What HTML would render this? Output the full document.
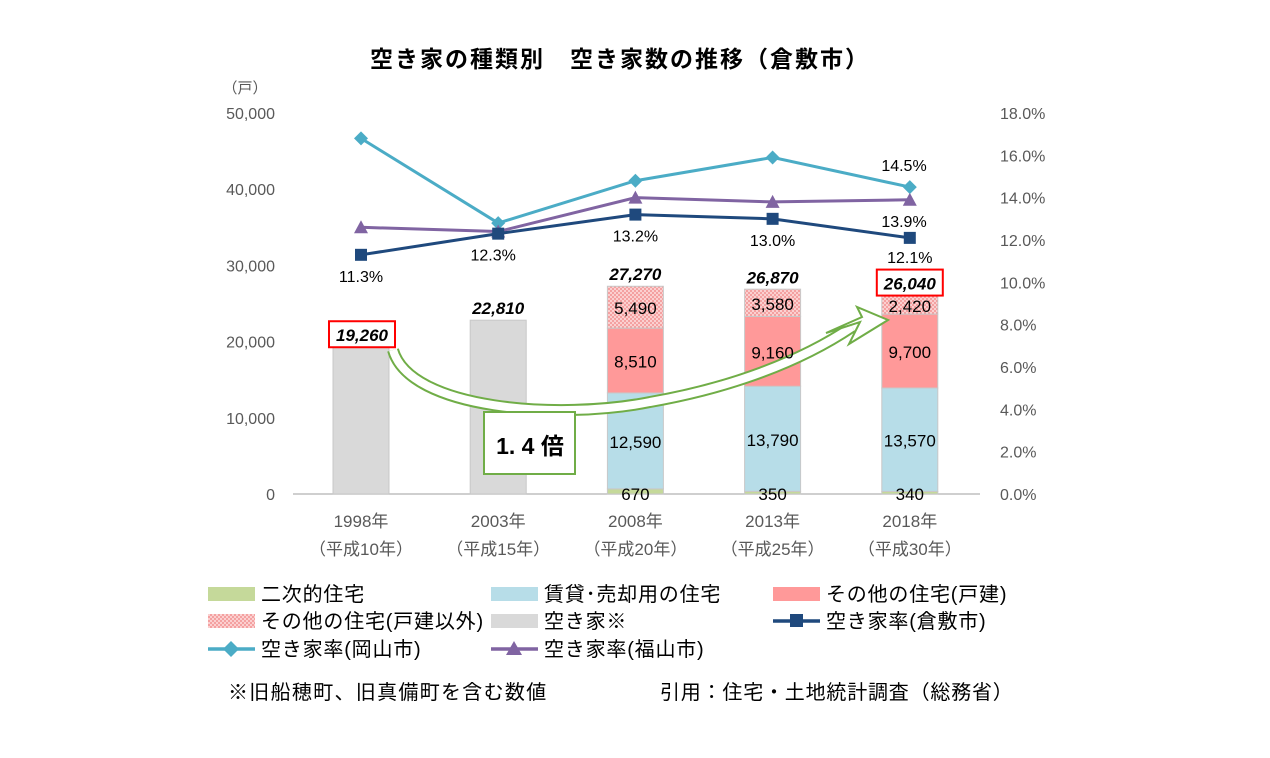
<!DOCTYPE html>
<html><head><meta charset="utf-8"><style>
body{margin:0;background:#fff;}
svg text{font-family:"Liberation Sans","Noto Sans CJK JP",sans-serif;}
</style></head><body>
<svg id="c" width="1270" height="753" xmlns="http://www.w3.org/2000/svg">
<rect width="1270" height="753" fill="#fff"/>
<text x="620" y="67" font-size="23" font-weight="bold" letter-spacing="2" text-anchor="middle" fill="#000">空き家の種類別　空き家数の推移（倉敷市）</text>
<text x="245" y="93" font-size="15" text-anchor="middle" fill="#595959">（戸）</text>
<g id="plot"></g>
<g id="legend"></g>
<text x="228" y="699" font-size="20" letter-spacing="1.3" fill="#000">※旧船穂町、旧真備町を含む数値</text>
<text x="660" y="699" font-size="20" letter-spacing="0.8" fill="#000">引用：住宅・土地統計調査（総務省）</text>
</svg>
<script>
const years=["1998年","2003年","2008年","2013年","2018年"];
const eras=["（平成10年）","（平成15年）","（平成20年）","（平成25年）","（平成30年）"];
const secondary=[0,0,670,350,340];
const rental=[0,0,12590,13790,13570];
const otherDetached=[0,0,8510,9160,9700];
const otherNonDetached=[0,0,5490,3580,2420];
const vacantTotalOnly=[19260,22810,0,0,0];
const totals=[19260,22810,27270,26870,26040];
const rateKurashiki=[11.3,12.3,13.2,13.0,12.1];
const rateOkayama=[16.8,12.8,14.8,15.9,14.5];
const rateFukuyama=[12.6,12.4,14.0,13.8,13.9];
const leftTicks=[0,10000,20000,30000,40000,50000];
const rightTicks=[0,2,4,6,8,10,12,14,16,18];

const NS="http://www.w3.org/2000/svg";
const g=document.getElementById('plot');
const y0=494,yTop=113;
const yL=v=>y0-(v/50000)*(y0-yTop);
const yR=v=>y0-(v/18)*(y0-yTop);
const xC=i=>361+i*137.2;
const bw=56;
function el(t,a,p){const e=document.createElementNS(NS,t);for(const k in a)e.setAttribute(k,a[k]);(p||g).appendChild(e);return e;}
function tx(x,y,s,a,p){const e=el('text',Object.assign({x:x,y:y},a),p);e.textContent=s;return e;}

const defs=el('defs',{});
const pat=el('pattern',{id:'dots',width:4,height:4,patternUnits:'userSpaceOnUse'},defs);
el('rect',{width:4,height:4,fill:'#fbd0d0'},pat);
el('circle',{cx:1,cy:1,r:0.9,fill:'#f08080'},pat);
el('circle',{cx:3,cy:3,r:0.9,fill:'#f08080'},pat);

leftTicks.forEach(v=>{
  const t=tx(275,yL(v)+6,v.toLocaleString('en-US'),{'font-size':16,'text-anchor':'end',fill:'#595959'});
  
  
});
rightTicks.forEach(v=>{
  const t=tx(1000,yR(v)+6,v.toFixed(1)+'%',{'font-size':16,fill:'#595959'});
  
  
});
const ax=el('line',{x1:293,x2:980,y1:y0,y2:y0,stroke:'#bfbfbf','stroke-width':1.5});



years.forEach((yr,i)=>{
  const a=tx(xC(i),527,yr,{'font-size':17,'text-anchor':'middle',fill:'#595959'});
  
  
  const b=tx(xC(i),555,eras[i],{'font-size':17,'text-anchor':'middle',fill:'#595959'});
  
  
  let base=0;
  const segs=[[vacantTotalOnly[i],'#d9d9d9','bar-vacant'],[secondary[i],'#c5d99a','bar-secondary'],[rental[i],'#b7dde8','bar-rental'],[otherDetached[i],'#ff9999','bar-other-detached'],[otherNonDetached[i],'url(#dots)','bar-other-nondetached']];
  segs.forEach(s=>{
    if(!s[0])return;
    const r=el('rect',{x:xC(i)-bw/2,y:yL(base+s[0]),width:bw,height:yL(base)-yL(base+s[0]),fill:s[1],stroke:'#c8c8c8','stroke-width':1});
    
    
    base+=s[0];
  });
});

// arrow
const ar=el('g',{});


el('path',{d:'M393,350 C410,410 560,420 650,402 C730,388 800,362 852,327',fill:'none',stroke:'#70ad47','stroke-width':12},ar);
el('path',{d:'M393,350 C410,410 560,420 650,402 C730,388 800,362 852,327',fill:'none',stroke:'#fff','stroke-width':8},ar);
el('polygon',{points:'826,333 860,322 849,344 888,320 857,307 862,317',fill:'#fff',stroke:'#70ad47','stroke-width':2},ar);

years.forEach((yr,i)=>{
  let base=0;
  const segs=[[secondary[i],'bar-secondary'],[rental[i],'bar-rental'],[otherDetached[i],'bar-other-detached'],[otherNonDetached[i],'bar-other-nondetached']];
  segs.forEach(s=>{
    if(!s[0])return;
    const ly=s[1]==='bar-secondary'?y0+6:(yL(base)+yL(base+s[0]))/2+7;
    const l=tx(xC(i),ly,s[0].toLocaleString('en-US'),{'font-size':17,'text-anchor':'middle',fill:'#000'});
    
    
    base+=s[0];
  });
  const ty=yL(totals[i])-8;
  const boxed=(i===0||i===4);
  if(boxed){
    const bx=el('rect',{x:xC(i)-(i===0?32:33),y:ty-18,width:66,height:26,fill:'#fff',stroke:'#ff0000','stroke-width':2});
    
    
  }
  const tl=tx(xC(i)+(i===0?1:0),ty+2,totals[i].toLocaleString('en-US'),{'font-size':17,'font-weight':'bold','font-style':'italic','text-anchor':'middle',fill:'#000'});
  
  
});

const bx=el('rect',{x:484,y:412,width:91,height:62,fill:'#fff',stroke:'#70ad47','stroke-width':2});


const rt=tx(530,454,'1. 4 倍',{'font-size':23,'font-weight':'bold','text-anchor':'middle',fill:'#000'});



function series(data,color,marker,name){
  const pts=data.map((v,i)=>[xC(i),yR(v)]);
  const p=el('polyline',{points:pts.map(p=>p.join(',')).join(' '),fill:'none',stroke:color,'stroke-width':3});
  
  
  pts.forEach(([x,y])=>{
    let m;
    if(marker==='sq')m=el('rect',{x:x-6,y:y-6,width:12,height:12,fill:color});
    else if(marker==='di')m=el('polygon',{points:`${x},${y-7} ${x+7},${y} ${x},${y+7} ${x-7},${y}`,fill:color});
    else m=el('polygon',{points:`${x},${y-7} ${x+7},${y+6} ${x-7},${y+6}`,fill:color});
    
    
  });
}
series(rateOkayama,'#4bacc6','di','okayama-rate');
series(rateFukuyama,'#8064a2','tri','fukuyama-rate');
series(rateKurashiki,'#1f497d','sq','kurashiki-rate');
rateKurashiki.forEach((v,i)=>{
  const yy=i===4?yR(v)+25:yR(v)+27;
  const l=tx(xC(i)+(i===1?-5:0),yy,v.toFixed(1)+'%',{'font-size':16,'text-anchor':'middle',fill:'#000'});
  
  
});
const l1=tx(904,171,rateOkayama[4].toFixed(1)+'%',{'font-size':16,'text-anchor':'middle',fill:'#000'});


const l2=tx(904,227,rateFukuyama[4].toFixed(1)+'%',{'font-size':16,'text-anchor':'middle',fill:'#000'});



// legend
const lg=document.getElementById('legend');
const items=[
 [208,594,'box','#c5d99a','二次的住宅'],[491,594,'box','#b7dde8','賃貸･売却用の住宅'],[773,594,'box','#ff9999','その他の住宅(戸建)'],
 [208,621,'box','url(#dots)','その他の住宅(戸建以外)'],[491,621,'box','#d9d9d9','空き家※'],[773,621,'sq','#1f497d','空き家率(倉敷市)'],
 [208,649,'di','#4bacc6','空き家率(岡山市)'],[491,649,'tri','#8064a2','空き家率(福山市)']];
items.forEach(it=>{
  const [x,y,t,c,s]=it;
  const gg=el('g',{},lg);
  
  
  if(t==='box')el('rect',{x:x,y:y-7,width:47,height:14,fill:c},gg);
  else{
    el('line',{x1:x,x2:x+47,y1:y,y2:y,stroke:c,'stroke-width':3.5},gg);
    if(t==='sq')el('rect',{x:x+17,y:y-7,width:13,height:13,fill:c},gg);
    else if(t==='di')el('polygon',{points:`${x+23},${y-8} ${x+31},${y} ${x+23},${y+8} ${x+15},${y}`,fill:c},gg);
    else el('polygon',{points:`${x+23},${y-8} ${x+31},${y+6} ${x+15},${y+6}`,fill:c},gg);
  }
  tx(x+53,y+7,s,{'font-size':20,'letter-spacing':0.8,fill:'#000'},gg);
});
</script>
</body></html>
